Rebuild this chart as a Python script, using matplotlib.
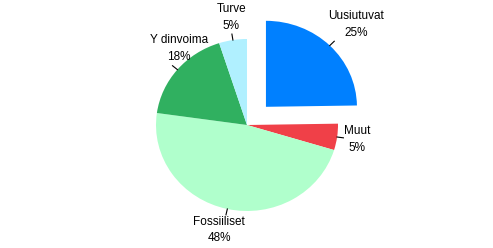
import matplotlib.pyplot as plt
import numpy as np

labels = ["Uusiutuvat", "Muut", "Fossiiliset", "Y dinvoima", "Turve"]
values = [25, 5, 48, 18, 5]
colors = ["#0080ff", "#f04048", "#b0ffcc", "#30b060", "#b0f0ff"]

W, H = 493, 248
ky = 91 / 86  # pie is a bit squashed vertically

fig = plt.figure(figsize=(W / 100, H / 100), dpi=100)
ax = fig.add_axes([0, 0, 1, 1])

cx, cy = 247, (H - 125) * ky
R = 91
wedges, _ = ax.pie(values, colors=colors, startangle=90, counterclock=False,
                   explode=[27, 0, 0, 0, 0], radius=R, center=(cx, cy),
                   frame=True, wedgeprops=dict(linewidth=0))

ax.set_aspect("auto")
ax.set_xlim(0, W)
ax.set_ylim(0, H * ky)
ax.axis("off")

# label distance (in radii) and angle tweak (deg) per wedge
dist = [1.38, 1.22, 1.26, 1.16, 1.26]
dang = [-1.5, 0, -1.6, -10, -1]
for w, lab, v, d, da in zip(wedges, labels, values, dist, dang):
    m = (w.theta1 + w.theta2) / 2
    a = np.deg2rad(m)
    x0, y0 = w.center
    ca, sa = np.cos(a), np.sin(a)
    ax.plot([x0 + R * ca, x0 + 1.07 * R * ca], [y0 + R * sa, y0 + 1.07 * R * sa],
            color="black", lw=0.8)
    at = np.deg2rad(m + da)
    ax.text(x0 + d * R * np.cos(at), y0 + d * R * np.sin(at), f"{lab}\n{v}%",
            ha="center", va="center", fontsize=8.5, family="Liberation Sans",
            linespacing=1.5)

fig.savefig("out.png", dpi=100)
